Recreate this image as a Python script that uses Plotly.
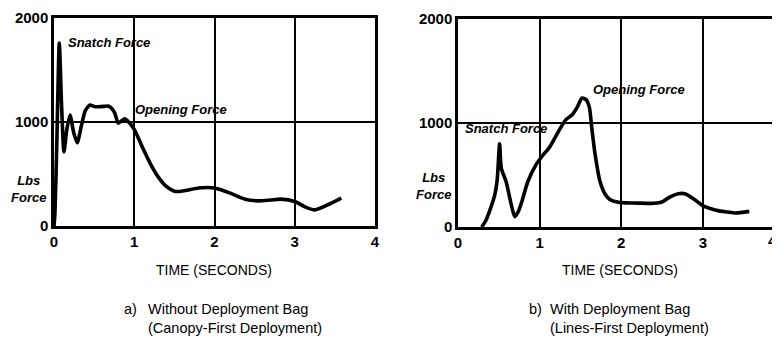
import plotly.graph_objects as go

# Panel a) Without deployment bag
t_a = [0, 0.012, 0.035, 0.066, 0.095, 0.124, 0.16, 0.2, 0.245, 0.29, 0.34, 0.39,
       0.447, 0.5, 0.55, 0.62, 0.675, 0.72, 0.757, 0.8, 0.84, 0.88, 0.93, 1.0,
       1.1, 1.2, 1.3, 1.4, 1.51, 1.64, 1.8, 2.0, 2.17, 2.38, 2.54, 2.7, 2.83,
       3.0, 3.12, 3.25, 3.41, 3.58]
f_a = [0, 125, 800, 1760, 1150, 712, 930, 1067, 900, 800, 960, 1110,
       1163, 1150, 1147, 1150, 1154, 1130, 1087, 990, 1010, 1030, 1000, 929,
       760, 600, 470, 380, 332, 342, 365, 365, 323, 258, 242, 250, 258,
       235, 187, 155, 203, 268]

# Panel b) With deployment bag
t_b = [0.29, 0.34, 0.39, 0.45, 0.48, 0.51, 0.53, 0.59, 0.655, 0.695, 0.74, 0.78,
       0.855, 0.96, 1.04, 1.12, 1.19, 1.24, 1.32, 1.4, 1.46, 1.52, 1.57, 1.61,
       1.64, 1.68, 1.74, 1.8, 1.86, 1.95, 2.05, 2.2, 2.4, 2.5, 2.6, 2.7, 2.78,
       2.88, 3.0, 3.1, 3.2, 3.3, 3.4, 3.57]
f_b = [0, 60, 160, 307, 450, 800, 567, 435, 208, 100, 150, 238,
       435, 604, 690, 765, 860, 931, 1030, 1080, 1150, 1240, 1225, 1150,
       950, 700, 440, 320, 265, 240, 232, 230, 228, 240, 290, 320, 320,
       275, 205, 175, 155, 145, 135, 150]

x_ticks = [0, 1, 2, 3, 4]
y_ticks = [0, 1000, 2000]

# the page body has an 8px margin; lay out in window pixels and shift
OFF = 8
W, H = 780 - OFF, 340 - OFF
FONT = "Liberation Sans"

def px(x):
    return (x - OFF) / W

def py(y):
    return 1 - (y - OFF) / H

fig = go.Figure()
fig.add_trace(go.Scatter(x=t_a, y=f_a, mode="lines", xaxis="x", yaxis="y",
                         line=dict(color="black", width=3.6, shape="spline", smoothing=0.6),
                         showlegend=False, hoverinfo="skip"))
fig.add_trace(go.Scatter(x=t_b, y=f_b, mode="lines", xaxis="x2", yaxis="y2",
                         line=dict(color="black", width=3.6, shape="spline", smoothing=0.6),
                         showlegend=False, hoverinfo="skip"))

axis_common = dict(showgrid=True, gridcolor="black", gridwidth=1.5, zeroline=False,
                   showline=True, linecolor="black", linewidth=2.5, ticks="",
                   automargin=False,
                   tickfont=dict(family=FONT, size=15, color="black", weight="bold"))

fig.update_layout(
    width=W, height=H, margin=dict(l=0, r=0, t=0, b=0, autoexpand=False),
    paper_bgcolor="white", plot_bgcolor="white",
    xaxis=dict(domain=[px(54), px(375)], range=[0, 4], tickvals=x_ticks,
               mirror=True, anchor="y", **axis_common),
    yaxis=dict(domain=[py(226), py(18)], range=[0, 2000], tickvals=y_ticks,
               mirror=True, anchor="x", **axis_common),
    xaxis2=dict(domain=[px(458), 1.0], range=[0, (780 - 458) / 81.6], tickvals=x_ticks,
                mirror=True, anchor="y2", **axis_common),
    yaxis2=dict(domain=[py(227), py(19)], range=[0, 2000], tickvals=y_ticks,
                mirror=False, anchor="x2", **axis_common),
)

def txt(x, y, s, size=13, italic=False, bold=False, xanchor="center", align="center"):
    fig.add_annotation(xref="paper", yref="paper", x=px(x), y=py(y), text=s,
                       showarrow=False, xanchor=xanchor, yanchor="middle", align=align,
                       font=dict(family=FONT, size=size, color="black",
                                 style="italic" if italic else "normal",
                                 weight="bold" if bold else "normal"))

# curve labels
txt(66, 43, "Snatch Force", size=13, italic=True, bold=True, xanchor="left")
txt(133, 109, "Opening Force", size=13, italic=True, bold=True, xanchor="left")
txt(463, 128, "Snatch Force", size=13, italic=True, bold=True, xanchor="left")
txt(591, 90, "Opening Force", size=13, italic=True, bold=True, xanchor="left")

# y labels
txt(28, 189, "Lbs<br>Force", size=13, italic=True, bold=True)
txt(434, 186, "Lbs<br>Force", size=13, italic=True, bold=True)

# tick on the right panel at the window edge
txt(779, 241, "4", size=15, bold=True, xanchor="right")

# axis titles
txt(214, 270, "TIME (SECONDS)", size=14)
txt(620, 270, "TIME (SECONDS)", size=14)

# captions
txt(122, 309, "a)", size=14.5, xanchor="left")
txt(146, 318, "Without Deployment Bag<br>(Canopy-First Deployment)", size=14.5,
    xanchor="left", align="left")
txt(527, 309, "b)", size=14.5, xanchor="left")
txt(548, 318, "With Deployment Bag<br>(Lines-First Deployment)", size=14.5,
    xanchor="left", align="left")

fig.write_html("out.html")
